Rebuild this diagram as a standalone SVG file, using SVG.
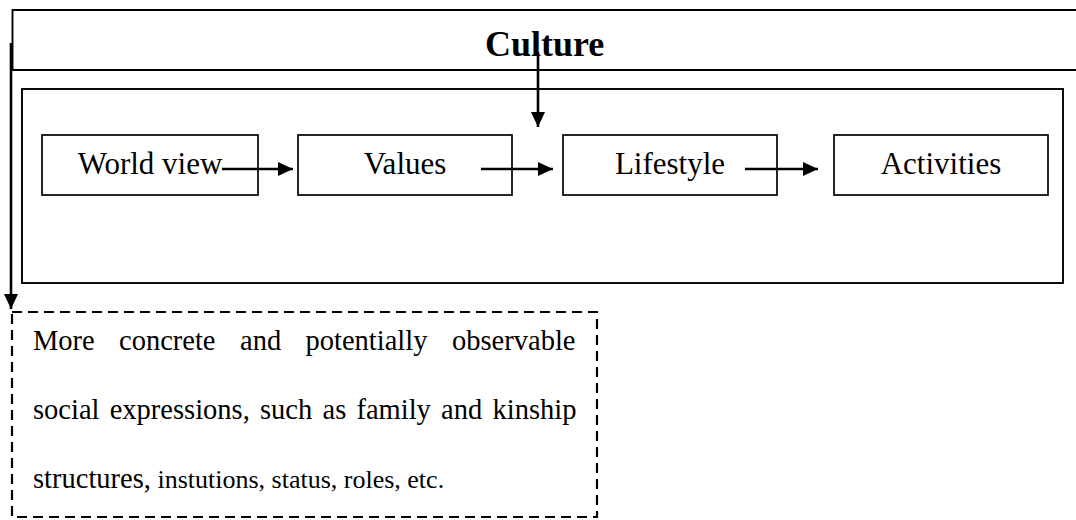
<svg xmlns="http://www.w3.org/2000/svg" width="1076" height="520" viewBox="0 0 1076 520">
  <style>
    .frame { fill: none; stroke: #000; stroke-width: 1.9; }
    .box { fill: #fff; stroke: #000; stroke-width: 1.7; }
    .dash { fill: none; stroke: #000; stroke-width: 2.2; stroke-dasharray: 10 6; }
    .wire { fill: none; stroke: #000; stroke-width: 2.6; }
    .label { font-family: "Liberation Serif", "Times New Roman", serif; font-size: 31px; fill: #000; text-anchor: middle; }
    .title { font-family: "Liberation Serif", "Times New Roman", serif; font-size: 36px; font-weight: bold; fill: #000; }
    .note { font-family: "Liberation Serif", "Times New Roman", serif; font-size: 28.5px; fill: #000; }
  </style>
  <defs>
    <marker id="arrowH" viewBox="0 0 15 14" refX="15" refY="7" markerUnits="userSpaceOnUse" markerWidth="15" markerHeight="14" orient="auto">
      <path d="M0,0 L15,7 L0,14 Z" fill="#000"/>
    </marker>
  </defs>

  <!-- Culture header band (open to the right) -->
  <g id="culture">
    <path class="frame" d="M1076,10 H12.5 V70 H1076"/>
    <text class="title" x="485" y="56">Culture</text>
  </g>

  <!-- container around the chain -->
  <g id="chain-frame">
    <rect class="frame" x="22" y="89" width="1041" height="194"/>
  </g>

  <g id="world-view">
    <rect class="box" x="42" y="135" width="216" height="60"/>
    <text class="label" x="150" y="174">World view</text>
  </g>
  <g id="values">
    <rect class="box" x="298" y="135" width="214" height="60"/>
    <text class="label" x="405" y="174">Values</text>
  </g>
  <g id="lifestyle">
    <rect class="box" x="563" y="135" width="214" height="60"/>
    <text class="label" x="670" y="174">Lifestyle</text>
  </g>
  <g id="activities">
    <rect class="box" x="834" y="135" width="214" height="60"/>
    <text class="label" x="941" y="174">Activities</text>
  </g>

  <!-- explanatory note, justified lines -->
  <g id="expressions">
    <rect class="dash" x="12" y="312" width="585" height="205"/>
    <text class="note" y="350"><tspan x="33">More</tspan><tspan x="119">concrete</tspan><tspan x="240">and</tspan><tspan x="305.5">potentially</tspan><tspan x="452">observable</tspan></text>
    <text class="note" x="33" y="419" word-spacing="3.1">social expressions, such as family and kinship</text>
    <text class="note" x="33" y="488">structures,<tspan font-size="26"> instutions, status, roles, etc.</tspan></text>
  </g>

  <g id="connectors">
    <line class="wire" x1="222" y1="169" x2="293" y2="169" marker-end="url(#arrowH)"/>
    <line class="wire" x1="481" y1="169" x2="553" y2="169" marker-end="url(#arrowH)"/>
    <line class="wire" x1="745" y1="169" x2="818" y2="169" marker-end="url(#arrowH)"/>
    <line class="wire" x1="538" y1="52" x2="538" y2="127" stroke-width="2.9" marker-end="url(#arrowH)"/>
    <line class="wire" x1="11" y1="43" x2="11" y2="309" marker-end="url(#arrowH)"/>
  </g>
</svg>
